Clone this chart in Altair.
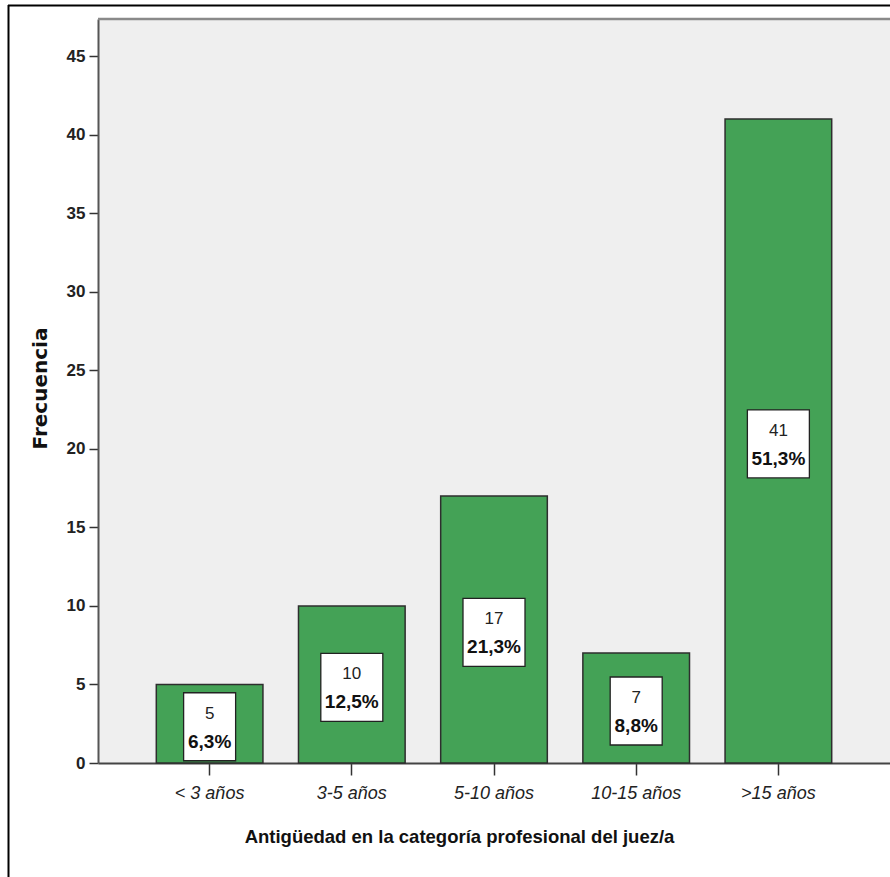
import altair as alt
import pandas as pd

categories = ["< 3 años", "3-5 años", "5-10 años", "10-15 años", ">15 años"]
counts = [5, 10, 17, 7, 41]
percents = ["6,3%", "12,5%", "21,3%", "8,8%", "51,3%"]
y_ticks = [0, 5, 10, 15, 20, 25, 30, 35, 40, 45]

df = pd.DataFrame({"cat": categories, "count": counts, "pct": percents})
df["mid"] = df["count"] / 2
df["kind"] = ["wide" if len(p) > 4 else "narrow" for p in percents]

FONT = "Liberation Sans, Arial, sans-serif"
W, H = 792, 744

xenc = alt.X(
    "cat:N", sort=categories,
    scale=alt.Scale(paddingInner=0.25, paddingOuter=0.41),
    axis=alt.Axis(
        title="Antigüedad en la categoría profesional del juez/a",
        labelAngle=0, labelFont=FONT, labelFontStyle="italic",
        labelFontSize=18, labelColor="#222", labelPadding=9,
        tickSize=12, tickColor="#333", tickWidth=1.5,
        domainColor="#444", domainWidth=2,
        titleFont=FONT, titleFontSize=18.5, titleFontWeight="bold", titleColor="#111",
        titleX=361, titleY=73, titleBaseline="middle", titleAlign="center",
    ),
)
yscale = alt.Scale(domain=[0, 47.36], nice=False, zero=True)
yenc_axis = alt.Axis(
    title="Frecuencia", values=y_ticks, grid=False,
    labelFont=FONT, labelFontWeight="bold", labelFontSize=17, labelColor="#222",
    labelPadding=4, tickSize=9, tickColor="#333", tickWidth=1.5,
    domainColor="#555", domainWidth=2,
    titleFont="DejaVu Sans", titleFontSize=20, titleFontWeight="bold", titleColor="#111",
    titleAngle=-90, titleX=-58, titleY=369, titleBaseline="middle", titleAlign="center",
)

bars = alt.Chart(df).mark_bar(fill="#44A256", stroke="#2E2E2E", strokeWidth=1.5).encode(
    x=xenc,
    y=alt.Y("count:Q", scale=yscale, axis=yenc_axis),
)

boxes = alt.Chart(df).mark_point(
    filled=True, fill="white", stroke="#222", strokeWidth=1.3, size=4, opacity=1
).encode(
    x=alt.X("cat:N", sort=categories),
    y=alt.Y("mid:Q", scale=yscale),
    shape=alt.Shape(
        "kind:N",
        scale=alt.Scale(
            domain=["narrow", "wide"],
            range=["M-26,-31L26,-31L26,37L-26,37Z", "M-31,-31L31,-31L31,37L-31,37Z"],
        ),
        legend=None,
    ),
)

count_text = alt.Chart(df).mark_text(
    font=FONT, fontSize=17, color="#222", baseline="middle", dy=-10
).encode(
    x=alt.X("cat:N", sort=categories),
    y=alt.Y("mid:Q", scale=yscale),
    text="count:Q",
)

pct_text = alt.Chart(df).mark_text(
    font=FONT, fontSize=19, fontWeight="bold", color="#111", baseline="middle", dy=18
).encode(
    x=alt.X("cat:N", sort=categories),
    y=alt.Y("mid:Q", scale=yscale),
    text="pct:N",
)

deco = pd.DataFrame({"a": [0]})
top_line = alt.Chart(deco).mark_rule(stroke="#8A8A8A", strokeWidth=2.5).encode(
    x=alt.value(0), x2=alt.value(W), y=alt.value(0)
)
outer_top = alt.Chart(deco).mark_rule(stroke="#000", strokeWidth=2).encode(
    x=alt.value(-90), x2=alt.value(W + 10), y=alt.value(-13.5)
)
outer_left = alt.Chart(deco).mark_rule(stroke="#000", strokeWidth=2).encode(
    x=alt.value(-89.5), y=alt.value(-14), y2=alt.value(H + 120)
)

chart = alt.layer(bars, boxes, count_text, pct_text, top_line, outer_top, outer_left).properties(
    width=W, height=H,
    autosize=alt.AutoSizeParams(type="none"),
    padding={"left": 98, "top": 19, "right": 0, "bottom": 114},
    background="white",
).configure_view(fill="#EFEFEF", stroke="transparent")

chart.save("out.html", embed_options={"renderer": "svg", "actions": False})
